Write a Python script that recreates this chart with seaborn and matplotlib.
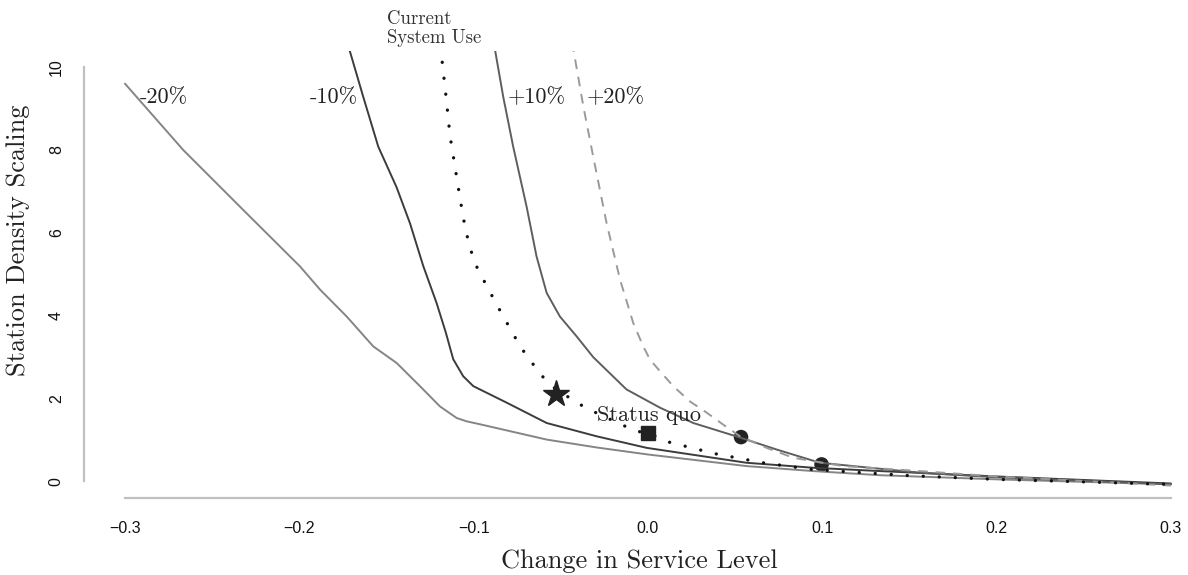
import pandas as pd
import matplotlib.pyplot as plt
import seaborn as sns

# Curves (change in service level vs station density scaling)
x_m20 = [-0.300, -0.2666, -0.2302, -0.1996, -0.1881, -0.1728, -0.1576, -0.1442, -0.1308,
         -0.1193, -0.1097, -0.1040, -0.0964, -0.0581, -0.0295, 0.000, 0.0566, 0.0947, 0.133,
         0.200, 0.300]
y_m20 = [9.60, 8.00, 6.47, 5.19, 4.63, 3.98, 3.26, 2.86, 2.30,
         1.81, 1.53, 1.45, 1.38, 1.01, 0.82, 0.65, 0.37, 0.25, 0.15,
         0.05, -0.07]

x_m10 = [-0.1725, -0.1633, -0.1547, -0.1442, -0.1365, -0.1289, -0.1212, -0.1160, -0.1117,
         -0.1060, -0.1002, -0.0810, -0.0581, -0.0295, -0.0007, 0.0566, 0.0948, 0.133,
         0.200, 0.300]
y_m10 = [10.6, 9.28, 8.08, 7.10, 6.23, 5.20, 4.30, 3.60, 2.95,
         2.54, 2.30, 1.90, 1.41, 1.09, 0.81, 0.45, 0.33, 0.25,
         0.12, -0.05]

x_p10 = [-0.0885, -0.083, -0.0773, -0.0696, -0.0639, -0.0581, -0.0505, -0.0409, -0.0314,
         -0.0123, 0.0069, 0.026, 0.0528, 0.0738, 0.0987, 0.156, 0.200, 0.300]
y_p10 = [10.6, 9.28, 8.08, 6.63, 5.43, 4.55, 3.98, 3.50, 3.00,
         2.22, 1.78, 1.41, 1.06, 0.77, 0.45, 0.21, 0.10, -0.07]

x_p20 = [-0.0435, -0.037, -0.0314, -0.0237, -0.0160, -0.0084, -0.0027, 0.0012, 0.0069,
         0.0145, 0.0241, 0.0337, 0.0432, 0.0528, 0.0681, 0.0834, 0.112, 0.156, 0.200, 0.300]
y_p20 = [10.6, 9.04, 7.84, 6.23, 4.87, 3.82, 3.26, 2.94, 2.66,
         2.30, 1.93, 1.66, 1.37, 1.09, 0.81, 0.57, 0.37, 0.25, 0.12, -0.10]

x_cur = [-0.1190, -0.1155, -0.1136, -0.1107, -0.1078, -0.1046, -0.0998, -0.0954, -0.0868,
         -0.0776, -0.0730, -0.0619, -0.0556, -0.0400, -0.0314, -0.0151, -0.0065, 0.0002,
         0.0110, 0.0384, 0.0660, 0.0939, 0.150, 0.200, 0.300]
y_cur = [10.5, 9.16, 8.36, 7.60, 6.83, 6.06, 5.31, 4.95, 4.27,
         3.58, 3.24, 2.60, 2.31, 1.88, 1.69, 1.37, 1.21, 1.17,
         0.96, 0.67, 0.45, 0.29, 0.14, 0.05, -0.07]

# Highlighted points
star_pt = (-0.053, 2.12)
status_quo_pt = (0.0, 1.17)
circle_x = [0.0534, 0.0996]
circle_y = [1.07, 0.41]

curve_labels = ["-20%", "-10%", "+10%", "+20%"]
label_x = [-0.2776, -0.1801, -0.0640, -0.0183]
label_y = 9.28

x_ticks = [-0.3, -0.2, -0.1, 0.0, 0.1, 0.2, 0.3]
y_ticks = [0, 2, 4, 6, 8, 10]

sns.set_style('white')
plt.rcParams['font.family'] = ['Liberation Sans', 'DejaVu Sans']
serif = ['cmr10', 'DejaVu Serif']

fig = plt.figure(figsize=(11.88, 5.75), dpi=100)
ax = fig.add_axes([84 / 1188, 77 / 575, 1104 / 1188, 447.5 / 575])

curves = [
    (x_m20, y_m20, '#858585'),
    (x_m10, y_m10, '#3c3c3c'),
    (x_p10, y_p10, '#5e5e5e'),
]
for xs, ys, col in curves:
    sns.lineplot(x=xs, y=ys, ax=ax, color=col, linewidth=1.4, sort=False, estimator=None)

sns.lineplot(x=x_p20, y=y_p20, ax=ax, color='#9a9a9a', linewidth=1.4, sort=False,
             estimator=None, linestyle=(0, (5, 4)))
sns.lineplot(x=x_cur, y=y_cur, ax=ax, color='#111111', linewidth=2.4, sort=False,
             estimator=None, linestyle=(0, (0.01, 4.8)), dash_capstyle='round')

ax.plot(*star_pt, marker='*', markersize=20, color='#222222', linestyle='none')
ax.plot(*status_quo_pt, marker='s', markersize=10, color='#222222', linestyle='none')
sns.scatterplot(x=circle_x, y=circle_y, ax=ax, s=110, color='#222222', edgecolor='none')

for lab, lx in zip(curve_labels, label_x):
    ax.text(lx, label_y, lab, ha='center', va='center', fontsize=16, family=serif,
            color='#222222')
ax.text(0.0006, 1.59, 'Status quo', ha='center', va='center', fontsize=16, family=serif,
        color='#222222')
ax.text(-0.1497, 10.93, 'Current\nSystem Use', ha='left', va='center', fontsize=13.5,
        family=serif, color='#333333', linespacing=1.05)

ax.set_xlim(-0.3235, 0.3098)
ax.set_ylim(-0.4, 10.4)
ax.set_xticks(x_ticks)
ax.set_xticklabels(['\u22120.3', '\u22120.2', '\u22120.1', '0.0', '0.1', '0.2', '0.3'])
ax.set_yticks(y_ticks)
ax.set_yticklabels([str(t) for t in y_ticks], rotation=90, va='center')

for side in ['top', 'right']:
    ax.spines[side].set_visible(False)
ax.spines['left'].set_bounds(0, 10)
ax.spines['bottom'].set_bounds(-0.3, 0.3)
for side in ['left', 'bottom']:
    ax.spines[side].set_color('#c0c0c0')
    ax.spines[side].set_linewidth(1.6)
ax.tick_params(axis='both', colors='#c0c0c0', length=6.5, width=1.6, direction='out',
               labelcolor='#111111', labelsize=11.5)
ax.tick_params(axis='x', pad=10)
ax.tick_params(axis='y', pad=8)

ax.set_xlabel('Change in Service Level', fontsize=19, family=serif, color='#222222')
ax.set_ylabel('Station Density Scaling', fontsize=19, family=serif, color='#222222')
ax.xaxis.set_label_coords(0.5027, -0.141)
ax.xaxis.label.set_va('center')
ax.yaxis.set_label_coords(-0.0598, 0.5765)
ax.yaxis.label.set_va('center')

plt.savefig('out.png', dpi=100)
plt.close()
